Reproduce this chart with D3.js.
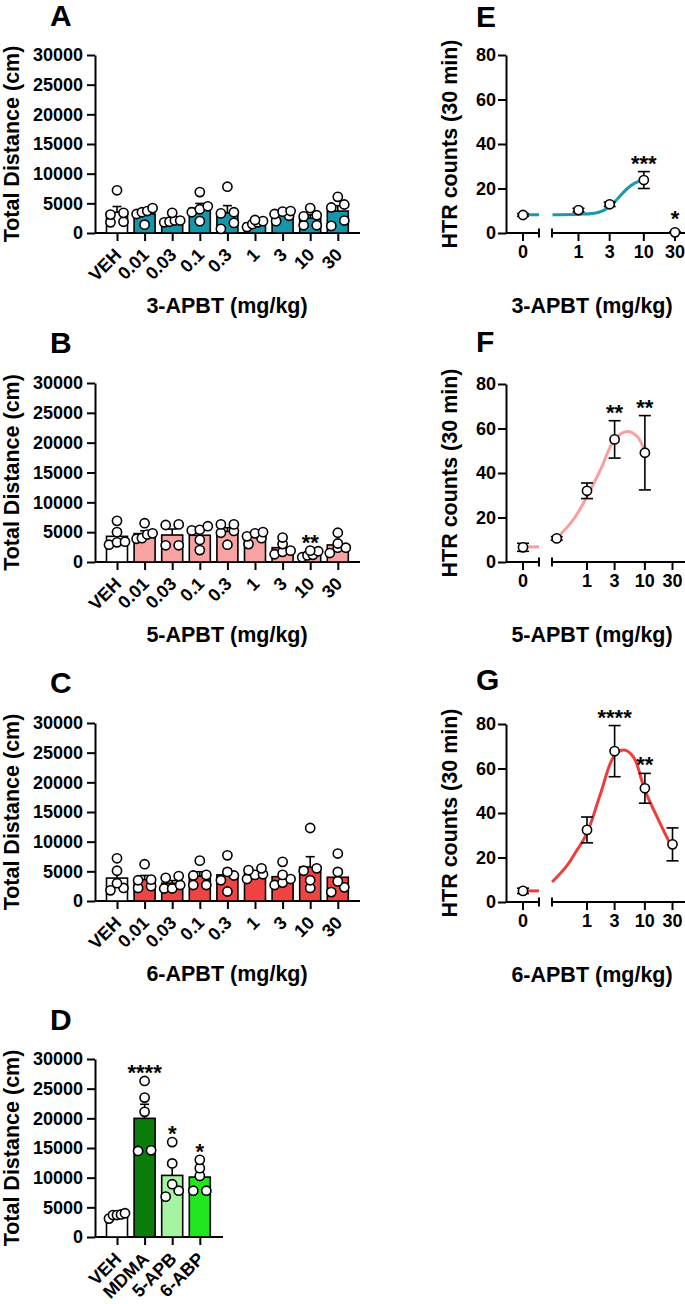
<!DOCTYPE html>
<html><head><meta charset="utf-8">
<script src="https://cdn.jsdelivr.net/npm/d3@7"></script>
<style>
body{margin:0;background:#fff}
text{font-family:"Liberation Sans",Arial,sans-serif;font-weight:bold;fill:#000}
</style>
</head><body><svg id="c" width="685" height="1304"></svg>
<script>
// ---------- data ----------
const doseCategories = ["VEH","0.01","0.03","0.1","0.3","1","3","10","30"];
const refCategories = ["VEH","MDMA","5-APB","6-ABP"];
const distanceTicks = [0,5000,10000,15000,20000,25000,30000];
const htrTicks = [0,20,40,60,80];
const doseTicks = [1,3,10,30];

// Total distance (cm), individual animals
const dist3APBT = [
  [7200,3400,1800,3100,1900],
  [3500,4200,3700,1400,3200],
  [3400,2100,2100,1900,1800],
  [6900,4000,4500,2000,3500],
  [7800,3300,3500,700,1700],
  [2000,2200,1000,1500,1800],
  [3700,3600,3200,2000,2900],
  [4200,3000,2800,1300,1300],
  [6100,4300,4800,2100,1200]
];
const dist5APBT = [
  [6900,5000,3300,3400,2900],
  [6500,4600,4800,3900,4000],
  [6300,6200,2800,2800],
  [6000,5300,5400,2000,3700],
  [6300,6300,5200,2900,4900],
  [5000,4800,4300,4000,3000],
  [3000,4100,1300,1900,1700],
  [1200,800,1900,1800,1100],
  [4900,3100,2400,2400,1500]
];
const dist6APBT = [
  [7200,5100,3000,2200,1800],
  [6200,3600,3500,2200,2500],
  [4200,3900,2100,2700,2100],
  [6800,4400,4300,2700,2700],
  [7700,4300,4900,3500,1600],
  [5500,5200,4500,4400,3700],
  [6600,3700,4400,2700,3100],
  [12300,5500,5100,3500,2200],
  [8000,4900,3300,2300,1500]
];
const distRef = [
  [3700,4000,3800,3100,3700],
  [26300,23500,21100,14500,14600],
  [16000,12400,8900,6800,7800],
  [13000,11600,10300,7800,7800]
];
const stars3APBT = ["","","","","","","","",""];
const stars5APBT = ["","","","","","","","**",""];
const stars6APBT = ["","","","","","","","",""];
const starsRef = ["","****","*","*"];

// HTR counts
const htrDose3 = [0,1,3,10,30];
const htrMean3 = [8.1,10.3,12.9,23.8,0.3];
const htrSem3  = [0.6,0.8,1.0,3.8,0.2];
const htrStars3 = ["","","","***","*"];
const fitZero3 = 8.2;
const fitDose3 = [0.4,1,2,3,4,5.6,7.5,10];
const fitVal3  = [8.2,8.4,9.2,11.8,15.5,20,22.6,23.8];

const htrDose5 = [0,0.3,1,3,10];
const htrMean5 = [6.6,10.6,32.0,55.1,49.1];
const htrSem5  = [1.8,0.8,3.5,8.4,16.7];
const htrStars5 = ["","","","**","**"];
const fitZero5 = 6.8;
const fitDose5 = [0.3,0.58,1,1.7,3,4.9,7.3,10];
const fitVal5  = [10.6,19,29.5,41.3,55,58.6,56.5,49.6];

const htrDose6 = [0,1,3,10,30];
const htrMean6 = [5.0,32.4,67.8,51.1,25.9];
const htrSem6  = [1.2,5.8,11.5,6.7,7.4];
const htrStars6 = ["","","****","**",""];
const fitZero6 = 5.0;
const fitDose6 = [0.25,0.44,0.66,1,1.68,3,4.4,6.4,10,18.6,30];
const fitVal6  = [9,16,23,31,48,66,68.3,65,50.3,35,24];

// ---------- drawing ----------
const svg = d3.select("#c");
svg.append("rect").attr("width",685).attr("height",1304).attr("fill","#fff");

function styleAxis(g){
  g.selectAll("path,line").attr("stroke","#000").attr("stroke-width",2);
  g.selectAll("text").style("font-size","18px").style("font-family","'Liberation Sans',Arial,sans-serif").style("font-weight","bold").attr("fill","#000");
}
function letter(t,x,y){
  svg.append("text").attr("x",x).attr("y",y).style("font-size","30px").text(t);
}
function yTitle(t,x,yc){
  svg.append("text").attr("transform",`translate(${x},${yc}) rotate(-90)`)
    .attr("text-anchor","middle").style("font-size","21.5px").text(t);
}
function xTitle(t,xc,y){
  svg.append("text").attr("x",xc).attr("y",y).attr("text-anchor","middle").style("font-size","21.5px").text(t);
}

function swarm(vals, y, spacing, rowH, maxW){
  const pts = vals.map(v=>({v, yy:y(v)})).sort((a,b)=>b.yy-a.yy);
  const rows=[]; let cur=null;
  pts.forEach(p=>{ if(!cur || Math.abs(p.yy-cur[0].yy)>rowH){cur=[p];rows.push(cur);} else cur.push(p); });
  rows.forEach(r=>{
    const s = r.length>1 ? Math.min(spacing, maxW/(r.length-1)) : 0;
    r.forEach((p,k)=>p.dx=(k-(r.length-1)/2)*s);
  });
  return pts;
}

function barPanel(cfg){
  const y = d3.scaleLinear().domain([0,30000]).range([cfg.bottom,cfg.top]);
  const x = d3.scalePoint().domain(cfg.cats).range([117,117+27.6*(cfg.cats.length-1)]);
  const g = svg.append("g");
  const ya = g.append("g").attr("transform","translate(95,0)")
    .call(d3.axisLeft(y).tickValues(distanceTicks).tickSize(8).tickSizeOuter(0).tickPadding(4).tickFormat(d3.format("d")));
  styleAxis(ya);
  const xa = g.append("g").attr("transform",`translate(0,${cfg.bottom})`)
    .call(d3.axisBottom(x).tickSize(8).tickSizeOuter(0));
  xa.select(".domain").remove();
  xa.append("line").attr("x1",95).attr("x2",cfg.axisEnd).attr("y1",0).attr("y2",0);
  styleAxis(xa);
  xa.selectAll(".tick text").attr("x",0).attr("y",0).attr("dy",null)
    .attr("transform","translate(5,23) rotate(-45)").attr("text-anchor","end");

  cfg.cats.forEach((c,i)=>{
    const vals = cfg.values[i];
    const m = d3.mean(vals);
    const sem = d3.deviation(vals)/Math.sqrt(vals.length);
    const cx = x(c);
    g.append("rect").attr("x",cx-10.5).attr("width",21).attr("y",y(m)).attr("height",cfg.bottom-y(m))
      .attr("fill",cfg.colors[i]).attr("stroke","#000").attr("stroke-width",1.6);
    g.append("line").attr("x1",cx).attr("x2",cx).attr("y1",y(m)).attr("y2",y(m+sem)).attr("stroke","#000").attr("stroke-width",1.6);
    g.append("line").attr("x1",cx-4.5).attr("x2",cx+4.5).attr("y1",y(m+sem)).attr("y2",y(m+sem)).attr("stroke","#000").attr("stroke-width",1.6);
    const pts = swarm(vals,y,13,6,16);
    g.selectAll(null).data(pts).join("circle")
      .attr("cx",p=>cx+p.dx).attr("cy",p=>p.yy).attr("r",4.6)
      .attr("fill","#fff").attr("stroke","#000").attr("stroke-width",1.6);
    if(cfg.stars[i]){
      const yTop = Math.min(y(d3.max(vals)), y(m+sem));
      g.append("text").attr("x",cx).attr("y",yTop-1).attr("text-anchor","middle").style("font-size","22px").text(cfg.stars[i]);
    }
  });
  letter(cfg.letter,50,cfg.letterY);
  yTitle("Total Distance (cm)",19,(cfg.top+cfg.bottom)/2);
  if(cfg.title) xTitle(cfg.title,227,cfg.bottom+80);
}

const teal="#1597ab", pink="#f8a2a2", red="#f04444";
barPanel({cats:doseCategories,values:dist3APBT,colors:["#fff"].concat(d3.range(8).map(()=>teal)),stars:stars3APBT,
  top:55,bottom:233,axisEnd:360,letter:"A",letterY:26,title:"3-APBT (mg/kg)"});
barPanel({cats:doseCategories,values:dist5APBT,colors:["#fff"].concat(d3.range(8).map(()=>pink)),stars:stars5APBT,
  top:383,bottom:562,axisEnd:360,letter:"B",letterY:353,title:"5-APBT (mg/kg)"});
barPanel({cats:doseCategories,values:dist6APBT,colors:["#fff"].concat(d3.range(8).map(()=>red)),stars:stars6APBT,
  top:723,bottom:901,axisEnd:360,letter:"C",letterY:693,title:"6-APBT (mg/kg)"});
barPanel({cats:refCategories,values:distRef,colors:["#fff","#0a7c0a","#a6f4a2","#20e620"],stars:starsRef,
  top:1059,bottom:1237,axisEnd:223,letter:"D",letterY:1030,title:null});

function htrPanel(cfg){
  const y = d3.scaleLinear().domain([0,80]).range([cfg.bottom,cfg.top]);
  const xs = d3.scaleLog().domain([1,30]).range(cfg.logRange);
  const x0 = 523, brkL = 539, brkR = 552, xEnd = 685;
  const xf = d => d===0 ? x0 : xs(d);
  const g = svg.append("g");
  const ya = g.append("g").attr("transform","translate(506,0)")
    .call(d3.axisLeft(y).tickValues(htrTicks).tickSize(8).tickSizeOuter(0).tickPadding(2));
  styleAxis(ya);
  const ax = g.append("g").attr("transform",`translate(0,${cfg.bottom})`);
  ax.append("line").attr("x1",506).attr("x2",brkL).attr("y1",0).attr("y2",0);
  ax.append("line").attr("x1",brkR).attr("x2",xEnd).attr("y1",0).attr("y2",0);
  [brkL,brkR].forEach(b=>ax.append("line").attr("x1",b).attr("x2",b).attr("y1",-4.5).attr("y2",4.5));
  const tickVals = [0].concat(doseTicks);
  tickVals.forEach(d=>{
    ax.append("line").attr("x1",xf(d)).attr("x2",xf(d)).attr("y1",0).attr("y2",8);
    ax.append("text").attr("x",xf(d)).attr("y",25).attr("text-anchor","middle").text(d);
  });
  styleAxis(ax);

  const col = cfg.color;
  g.append("line").attr("x1",x0).attr("x2",brkL).attr("y1",y(cfg.fitZero)).attr("y2",y(cfg.fitZero))
    .attr("stroke",col).attr("stroke-width",3);
  const line = d3.line().x(d=>xs(d[0])).y(d=>y(d[1])).curve(d3.curveCatmullRom.alpha(0.5));
  g.append("path").attr("d",line(d3.zip(cfg.fitDose,cfg.fitVal))).attr("fill","none").attr("stroke",col).attr("stroke-width",3);

  cfg.dose.forEach((d,i)=>{
    const cx = xf(d), m = cfg.mean[i], s = cfg.sem[i];
    g.append("line").attr("x1",cx).attr("x2",cx).attr("y1",y(m-s)).attr("y2",y(m+s)).attr("stroke","#000").attr("stroke-width",1.6);
    [m-s,m+s].forEach(v=>g.append("line").attr("x1",cx-6).attr("x2",cx+6).attr("y1",y(v)).attr("y2",y(v)).attr("stroke","#000").attr("stroke-width",1.6));
  });
  cfg.dose.forEach((d,i)=>{
    g.append("circle").attr("cx",xf(d)).attr("cy",y(cfg.mean[i])).attr("r",4.6)
      .attr("fill","#fff").attr("stroke","#000").attr("stroke-width",1.6);
    if(cfg.stars[i]){
      const yTop = Math.min(y(cfg.mean[i]+cfg.sem[i]), y(cfg.mean[i])-5);
      g.append("text").attr("x",xf(d)).attr("y",yTop-1).attr("text-anchor","middle").style("font-size","22px").text(cfg.stars[i]);
    }
  });
  letter(cfg.letter,476,cfg.letterY);
  yTitle("HTR counts (30 min)",457,(cfg.top+cfg.bottom)/2);
  xTitle(cfg.title,592,cfg.bottom+80);
}

htrPanel({dose:htrDose3,mean:htrMean3,sem:htrSem3,stars:htrStars3,fitZero:fitZero3,fitDose:fitDose3,fitVal:fitVal3,
  color:"#1a9ab0",logRange:[578.5,675],top:55,bottom:233,letter:"E",letterY:27,title:"3-APBT (mg/kg)"});
htrPanel({dose:htrDose5,mean:htrMean5,sem:htrSem5,stars:htrStars5,fitZero:fitZero5,fitDose:fitDose5,fitVal:fitVal5,
  color:"#f8a0a0",logRange:[587,672.5],top:384,bottom:562,letter:"F",letterY:352,title:"5-APBT (mg/kg)"});
htrPanel({dose:htrDose6,mean:htrMean6,sem:htrSem6,stars:htrStars6,fitZero:fitZero6,fitDose:fitDose6,fitVal:fitVal6,
  color:"#f03c3c",logRange:[587,672.5],top:724,bottom:902,letter:"G",letterY:690,title:"6-APBT (mg/kg)"});
</script>
</body></html>
